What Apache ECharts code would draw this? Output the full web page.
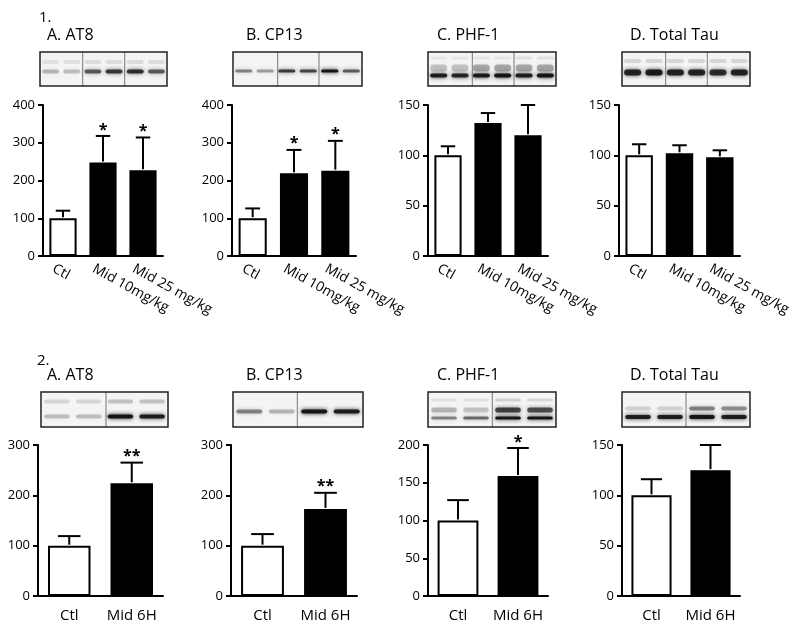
<!DOCTYPE html>
<html>
<head>
<meta charset="utf-8">
<script src="https://cdn.jsdelivr.net/npm/echarts@6/dist/echarts.min.js"></script>
<style>html,body{margin:0;padding:0;background:#fff}#c{width:800px;height:633px}</style>
</head>
<body>
<div id="c"></div>
<script>
// ---------- data ----------
const catsRow1 = ['Ctl', 'Mid 10mg/kg', 'Mid 25 mg/kg'];
const catsRow2 = ['Ctl', 'Mid 6H'];

const at8Dose = [100, 248, 227];
const at8DoseErr = [120, 318, 314];
const at8DoseSig = ['', '*', '*'];

const cp13Dose = [100, 219, 226];
const cp13DoseErr = [126, 281, 305];
const cp13DoseSig = ['', '*', '*'];

const phf1Dose = [100, 132, 120];
const phf1DoseErr = [109, 142, 150];
const phf1DoseSig = ['', '', ''];

const tauDose = [100, 102, 98];
const tauDoseErr = [111, 110, 105];
const tauDoseSig = ['', '', ''];

const at8Time = [100, 224];
const at8TimeErr = [119, 265];
const at8TimeSig = ['', '**'];

const cp13Time = [100, 173];
const cp13TimeErr = [123, 205];
const cp13TimeSig = ['', '**'];

const phf1Time = [100, 159];
const phf1TimeErr = [127, 196];
const phf1TimeSig = ['', '*'];

const tauTime = [100, 125];
const tauTimeErr = [116, 150];
const tauTimeSig = ['', ''];

const panelTitles = ['A. AT8', 'B. CP13', 'C. PHF-1', 'D. Total Tau'];
const yMax1 = [400, 400, 150, 150];
const yStep1 = [100, 100, 50, 50];
const yMax2 = [300, 300, 200, 150];
const yStep2 = [100, 100, 50, 50];

// ---------- layout ----------
const FONT = 'Open Sans';
const panels = [
  {cats: catsRow1, v: at8Dose, e: at8DoseErr, s: at8DoseSig, max: yMax1[0], step: yStep1[0], grid: {left: 43, top: 105, width: 120, height: 151}, row: 1},
  {cats: catsRow1, v: cp13Dose, e: cp13DoseErr, s: cp13DoseSig, max: yMax1[1], step: yStep1[1], grid: {left: 232, top: 105, width: 124, height: 151}, row: 1},
  {cats: catsRow1, v: phf1Dose, e: phf1DoseErr, s: phf1DoseSig, max: yMax1[2], step: yStep1[2], grid: {left: 428, top: 105, width: 120, height: 151}, row: 1},
  {cats: catsRow1, v: tauDose, e: tauDoseErr, s: tauDoseSig, max: yMax1[3], step: yStep1[3], grid: {left: 619, top: 105, width: 121, height: 151}, row: 1},
  {cats: catsRow2, v: at8Time, e: at8TimeErr, s: at8TimeSig, max: yMax2[0], step: yStep2[0], grid: {left: 38, top: 445, width: 125, height: 151}, row: 2},
  {cats: catsRow2, v: cp13Time, e: cp13TimeErr, s: cp13TimeSig, max: yMax2[1], step: yStep2[1], grid: {left: 231, top: 445, width: 126, height: 151}, row: 2},
  {cats: catsRow2, v: phf1Time, e: phf1TimeErr, s: phf1TimeSig, max: yMax2[2], step: yStep2[2], grid: {left: 428, top: 445, width: 120, height: 151}, row: 2},
  {cats: catsRow2, v: tauTime, e: tauTimeErr, s: tauTimeSig, max: yMax2[3], step: yStep2[3], grid: {left: 622, top: 445, width: 118, height: 151}, row: 2}
];

const titleLefts = [47, 246, 437, 630];

// western blot decorations
const blots = [
  {x: 40, y: 52, w: 127, h: 34, n: 6, div: [82.7, 124.7], bands: [
    {y: 62, t: 4, a: [0.08, 0.08, 0.1, 0.1, 0.1, 0.1]},
    {y: 71.5, t: 4, a: [0.25, 0.22, 0.6, 0.75, 0.8, 0.6]}]},
  {x: 233, y: 52, w: 129, h: 34, n: 6, div: [277.7, 319], bands: [
    {y: 71, t: 3, a: [0.45, 0.35, 0.75, 0.7, 0.95, 0.6]}]},
  {x: 428, y: 52, w: 128, h: 34, n: 6, div: [472.3, 514], bands: [
    {y: 58, t: 3, a: [0.06, 0.06, 0.06, 0.06, 0.08, 0.08]},
    {y: 68, t: 7, a: [0.2, 0.2, 0.3, 0.3, 0.3, 0.3]},
    {y: 75.5, t: 4, a: [0.9, 0.85, 0.9, 0.95, 0.9, 0.95]}]},
  {x: 622, y: 52, w: 128, h: 34, n: 6, div: [665.7, 707.3], bands: [
    {y: 61, t: 4, a: [0.12, 0.12, 0.12, 0.12, 0.12, 0.12]},
    {y: 72.5, t: 6, a: [0.85, 0.9, 0.85, 0.85, 0.8, 0.85]}]},
  {x: 41, y: 392, w: 127, h: 35, n: 4, div: [106], bands: [
    {y: 401.5, t: 4, a: [0.12, 0.12, 0.2, 0.2]},
    {y: 416.5, t: 4, a: [0.22, 0.22, 0.95, 0.9]}]},
  {x: 233, y: 392, w: 130, h: 35, n: 4, div: [297.3], bands: [
    {y: 411.5, t: 4, a: [0.45, 0.25, 0.95, 0.9]}]},
  {x: 428, y: 392, w: 128, h: 35, n: 4, div: [492.3], bands: [
    {y: 400, t: 3, a: [0.08, 0.08, 0.15, 0.12]},
    {y: 410, t: 5, a: [0.25, 0.2, 0.7, 0.65]},
    {y: 418, t: 3, a: [0.45, 0.55, 0.95, 0.95]}]},
  {x: 622, y: 392, w: 128, h: 35, n: 4, div: [686], bands: [
    {y: 408.5, t: 4, a: [0.15, 0.15, 0.45, 0.4]},
    {y: 417, t: 4, a: [0.9, 0.9, 0.95, 0.9]}]}
];

function blotGraphics(b) {
  const els = [];
  els.push({type: 'rect', silent: true, z: 1, shape: {x: b.x, y: b.y, width: b.w, height: b.h}, style: {fill: '#f4f4f4'}});
  const lw = b.w / b.n;
  b.bands.forEach(band => {
    band.a.forEach((a, i) => {
      const cx = b.x + (i + 0.5) * lw;
      const bw = lw * 0.8;
      els.push({type: 'rect', silent: true, z: 2,
        shape: {x: cx - bw / 2, y: band.y - band.t / 2, width: bw, height: band.t, r: band.t / 2},
        style: {fill: 'rgba(15,15,15,' + a + ')', shadowBlur: 4, shadowColor: 'rgba(15,15,15,' + a + ')'}});
    });
  });
  b.div.forEach(dx => els.push({type: 'line', silent: true, z: 3,
    shape: {x1: dx, y1: b.y, x2: dx, y2: b.y + b.h}, style: {stroke: '#777', lineWidth: 1}}));
  els.push({type: 'rect', silent: true, z: 4, shape: {x: b.x, y: b.y, width: b.w, height: b.h},
    style: {fill: 'none', stroke: '#222', lineWidth: 1.5}});
  return els;
}

const graphicEls = [];
blots.forEach(b => graphicEls.push(...blotGraphics(b)));

const titles = [
  {text: '1.', left: 39, top: 10, textStyle: {fontSize: 15, fontWeight: 'normal', color: '#000', fontFamily: FONT}},
  {text: '2.', left: 37, top: 353, textStyle: {fontSize: 15, fontWeight: 'normal', color: '#000', fontFamily: FONT}}
];
panelTitles.forEach((t, i) => {
  titles.push({text: t, left: titleLefts[i], top: 27, textStyle: {fontSize: 16, fontWeight: 'normal', color: '#000', fontFamily: FONT}});
  titles.push({text: t, left: titleLefts[i], top: 367, textStyle: {fontSize: 16, fontWeight: 'normal', color: '#000', fontFamily: FONT}});
});
titles.forEach(t => { t.padding = 0; });

const grids = [], xAxes = [], yAxes = [], series = [];
panels.forEach((p, k) => {
  grids.push(Object.assign({containLabel: false}, p.grid));
  xAxes.push({
    type: 'category', gridIndex: k, data: p.cats,
    axisLine: {lineStyle: {color: '#000', width: 2}},
    axisTick: {alignWithLabel: true, length: 5, lineStyle: {color: '#000', width: 2}},
    axisLabel: p.row === 1
      ? {rotate: -29, fontSize: 14, color: '#000', fontFamily: FONT, margin: 9, interval: 0,
         verticalAlign: 'top', padding: [0, 0, 0, -7]}
      : {fontSize: 15, color: '#000', fontFamily: FONT, margin: 12, interval: 0},
    splitLine: {show: false}
  });
  yAxes.push({
    type: 'value', gridIndex: k, min: 0, max: p.max, interval: p.step,
    axisLine: {show: true, lineStyle: {color: '#000', width: 2}},
    axisTick: {show: true, length: 5, lineStyle: {color: '#000', width: 2}},
    axisLabel: {fontSize: 13, color: '#000', fontFamily: FONT, margin: 8},
    splitLine: {show: false}
  });
  series.push({
    type: 'bar', xAxisIndex: k, yAxisIndex: k, barWidth: '68%', z: 2,
    data: p.v.map((v, i) => ({value: v, itemStyle: {color: i === 0 ? '#fff' : '#000', borderColor: '#000', borderWidth: 2}})),
    silent: true, animation: false
  });
  const sigs = p.s;
  series.push({
    type: 'custom', xAxisIndex: k, yAxisIndex: k, z: 3, silent: true, animation: false,
    data: p.v.map((v, i) => [i, v, p.e[i]]),
    renderItem: function (params, api) {
      const i = api.value(0), v = api.value(1), e = api.value(2);
      const p0 = api.coord([i, v]);
      const p1 = api.coord([i, e]);
      const band = api.size([1, 0])[0];
      const cap = band * 0.18;
      const children = [
        {type: 'line', shape: {x1: p0[0], y1: p0[1] - 1, x2: p1[0], y2: p1[1]}, style: {stroke: '#000', lineWidth: 2}},
        {type: 'line', shape: {x1: p1[0] - cap, y1: p1[1], x2: p1[0] + cap, y2: p1[1]}, style: {stroke: '#000', lineWidth: 2}}
      ];
      const s = sigs[params.dataIndex];
      if (s) {
        children.push({type: 'text', style: {text: s, x: p1[0], y: p1[1] + 2, align: 'center', verticalAlign: 'bottom',
          fontSize: 16, fontWeight: 'bold', fill: '#000', fontFamily: FONT}});
      }
      return {type: 'group', children: children};
    }
  });
});

const chart = echarts.init(document.getElementById('c'), null, {renderer: 'canvas'});
chart.setOption({
  backgroundColor: '#fff',
  animation: false,
  title: titles,
  grid: grids,
  xAxis: xAxes,
  yAxis: yAxes,
  series: series,
  graphic: {elements: graphicEls}
});
</script>
</body>
</html>
